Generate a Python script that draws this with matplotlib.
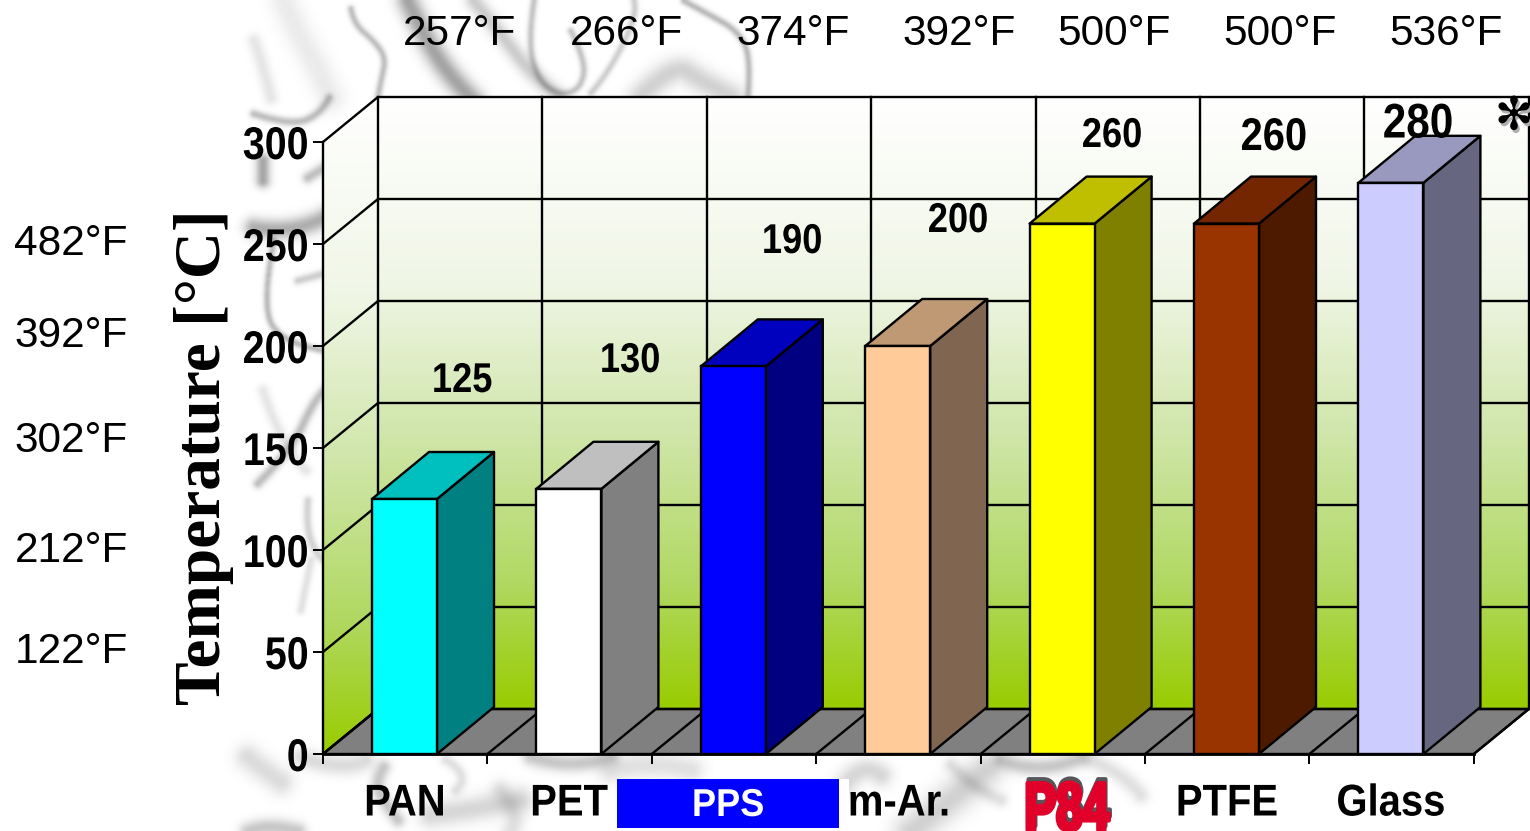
import numpy as np
import matplotlib
matplotlib.use('Agg')
import matplotlib.pyplot as plt
import matplotlib.patheffects as pe
from matplotlib.colors import LinearSegmentedColormap
from matplotlib.patches import Polygon, Rectangle
from matplotlib.transforms import Affine2D

materials = ['PAN', 'PET', 'PPS', 'm-Ar.', 'P84', 'PTFE', 'Glass']
temps = [125, 130, 190, 200, 260, 260, 280]
temp_labels = ['125', '130', '190', '200', '260', '260', '280']
top_f = ['257°F', '266°F', '374°F', '392°F', '500°F', '500°F', '536°F']
left_f = ['482°F', '392°F', '302°F', '212°F', '122°F']
y_ticks = [0, 50, 100, 150, 200, 250, 300]

front = ['#00ffff', '#ffffff', '#0000ff', '#ffcc99', '#ffff00', '#993300', '#ccccff']
side = ['#008080', '#808080', '#000080', '#806650', '#808000', '#4d1a00', '#666680']
top = ['#00bfbf', '#bfbfbf', '#0000bf', '#bf9973', '#bfbf00', '#732600', '#9999bf']

# label positions in the picture, they do not line up with the bars
top_f_x = [460, 627, 793, 959, 1114, 1280, 1446]
left_f_y = [244, 336, 441, 551, 652]
temp_x = [462, 630, 792, 958, 1112, 1274, 1418]
temp_y = [381, 361, 242, 221, 136, 138, 125]
temp_size = [30, 30, 30, 30, 30, 33, 35]
name_x = [405, 569, 728, 899, 1066, 1227, 1391]

# marble background strokes: points, width, darkness
swirls = [
    ([(407, 0), (427, 43), (453, 80), (472, 99)], 8, 0.36),
    ([(350, 8), (353, 23), (373, 40), (385, 57), (380, 80), (377, 96)], 2.5, 0.26),
    ([(283, 0), (297, 33), (317, 67), (330, 97)], 10, 0.08),
    ([(253, 40), (263, 67), (270, 97)], 5, 0.10),
    ([(473, 0), (500, 33), (530, 73), (557, 95)], 6, 0.20),
    ([(533, 0), (527, 40), (537, 80), (560, 95), (580, 87), (585, 60), (570, 30)], 2.5, 0.24),
    ([(633, 0), (637, 13), (607, 73), (590, 92)], 2.5, 0.20),
    ([(683, 0), (707, 13), (737, 30), (750, 57), (747, 95)], 2.5, 0.28),
    ([(640, 95), (673, 62), (700, 80), (730, 95)], 9, 0.18),
    ([(253, 113), (290, 125), (320, 113), (328, 97)], 3, 0.26),
    ([(262, 160), (262, 180)], 5, 0.35),
    ([(307, 177), (323, 167)], 4, 0.25),
    ([(253, 227), (293, 233), (323, 217)], 7, 0.32),
    ([(273, 240), (260, 307), (283, 343), (323, 350)], 2.5, 0.28),
    ([(323, 273), (297, 280)], 3, 0.20),
    ([(257, 483), (290, 450), (313, 400), (323, 390)], 3.5, 0.26),
    ([(262, 390), (278, 440), (305, 470)], 4, 0.10),
    ([(307, 500), (303, 543), (323, 560)], 3, 0.18),
    ([(300, 610), (310, 560)], 3, 0.12),
    ([(247, 757), (263, 770), (280, 782)], 9, 0.14),
    ([(300, 757), (345, 772), (365, 760)], 7, 0.14),
    ([(383, 767), (373, 783), (387, 807), (397, 820)], 5, 0.22),
    ([(247, 831), (267, 823), (297, 831)], 6, 0.22),
    ([(455, 790), (470, 775), (445, 760)], 4, 0.12),
    ([(430, 815), (470, 810), (520, 800)], 9, 0.16),
    ([(530, 757), (570, 770), (610, 757)], 6, 0.22),
    ([(500, 790), (520, 815), (510, 831)], 7, 0.12),
    ([(610, 770), (650, 760), (690, 770)], 9, 0.12),
    ([(840, 790), (860, 760), (880, 775)], 8, 0.16),
    ([(910, 831), (950, 800), (985, 770)], 12, 0.18),
    ([(1000, 760), (1040, 775), (1080, 758)], 6, 0.22),
    ([(950, 765), (975, 790), (1000, 800)], 5, 0.12),
    ([(1090, 760), (1125, 775), (1140, 795)], 6, 0.12),
]

plt.rcParams['font.family'] = ['Liberation Sans', 'DejaVu Sans']

W, H = 1530, 831
fig = plt.figure(figsize=(W / 100, H / 100), dpi=100)


class Squeeze(pe.AbstractPathEffect):
    # narrow the drawn text, no condensed font here
    def __init__(self, sx, anchor='center', stroke_w=0, shadow=None, shadow_off=(0, 0)):
        super().__init__()
        self.sx = sx
        self.anchor = anchor
        self.stroke_w = stroke_w
        self.shadow = shadow
        self.shadow_off = shadow_off

    def draw_path(self, renderer, gc, tpath, affine, rgbFace=None):
        box = tpath.get_extents(affine)
        cx = box.x1 if self.anchor == 'right' else (box.x0 + box.x1) / 2
        tr = affine + Affine2D().translate(-cx, 0).scale(self.sx, 1).translate(cx, 0)
        if self.shadow is not None:
            gc0 = renderer.new_gc()
            gc0.copy_properties(gc)
            gc0.set_foreground(self.shadow)
            gc0.set_linewidth(self.stroke_w)
            renderer.draw_path(gc0, tpath, tr + Affine2D().translate(*self.shadow_off), self.shadow_rgb())
            gc0.restore()
        if self.stroke_w:
            gc1 = renderer.new_gc()
            gc1.copy_properties(gc)
            gc1.set_foreground(rgbFace)
            gc1.set_linewidth(self.stroke_w)
            renderer.draw_path(gc1, tpath, tr, rgbFace)
            gc1.restore()
        else:
            renderer.draw_path(gc, tpath, tr, rgbFace)

    def shadow_rgb(self):
        return matplotlib.colors.to_rgba(self.shadow)


# pixel axes for the background picture
bg = fig.add_axes([0, 0, 1, 1], zorder=1)
yy, xx = np.mgrid[0:H:2, 0:W:2]
xx = xx.astype(np.float32)
yy = yy.astype(np.float32)
shade = np.ones(xx.shape)
for pts, width, dark in swirls:
    pts = np.array(pts, dtype=np.float32)
    # quadratic pieces through the midpoints
    mids = [pts[0]]
    for i in range(1, len(pts) - 1):
        a = mids[-1]
        c = (pts[i] + pts[i + 1]) / 2 if i < len(pts) - 2 else pts[i + 1]
        for t in np.linspace(0, 1, 40)[1:]:
            mids.append((1 - t) ** 2 * a + 2 * t * (1 - t) * pts[i] + t ** 2 * c)
    if len(pts) == 2:
        mids = [pts[0] + t * (pts[1] - pts[0]) for t in np.linspace(0, 1, 24)]
    mids = np.array(mids, dtype=np.float32)
    d2 = np.full(xx.shape, 1e9, dtype=np.float32)
    for mx, my in mids:
        d2 = np.minimum(d2, (xx - mx) ** 2 + (yy - my) ** 2)
    shade *= 1 - dark * np.exp(-d2 / (2 * width ** 2))
bg.imshow(shade, cmap='gray', vmin=0, vmax=1, extent=(0, W, H, 0), aspect='auto', interpolation='bilinear')
bg.set_xlim(0, W)
bg.set_ylim(H, 0)
bg.axis('off')

# chart axes: x counts material slots, y is the temperature
slot_px = 164.4
c_per_px = 50 / 102.0
x0_px, y0_px = 323, 754
ax = fig.add_axes([0, 0, 1, 1], zorder=2)
ax.patch.set_alpha(0)
xlim = (-x0_px / slot_px, (W - x0_px) / slot_px)
ylim = ((y0_px - H) * c_per_px, y0_px * c_per_px)
dx = 55 / slot_px
dy = 45 * c_per_px
bar_dx = 57 / slot_px
bar_dy = 47 * c_per_px
bar_off = 49 / slot_px
bar_w = 65 / slot_px
n = len(materials)

cmap = LinearSegmentedColormap.from_list('wall', [(0, '#ffffff'), (0.3, '#f0f6e6'), (0.55, '#d0e6aa'),
                                                  (0.8, '#b0d860'), (1, '#99cc00')])
grad = np.linspace(0, 1, 256).reshape(-1, 1)
lc = 'black'
lw = 1.7

# back wall
im = ax.imshow(grad, cmap=cmap, aspect='auto', zorder=1, vmin=0, vmax=1,
               extent=(dx, n + dx, dy, 300 + dy), origin='upper')
# side wall
im2 = ax.imshow(grad, cmap=cmap, aspect='auto', zorder=1, vmin=0, vmax=1,
                extent=(0, dx, 0, 300 + dy), origin='upper')
clip = Polygon([(0, 0), (dx, dy), (dx, 300 + dy), (0, 300)], transform=ax.transData, fc='none', ec='none')
ax.add_patch(clip)
im2.set_clip_path(clip)

# floor
ax.add_patch(Polygon([(0, 0), (dx, dy), (n + dx, dy), (n, 0)], fc='#808080', ec=lc, lw=lw, zorder=2))

for v in y_ticks:
    ax.plot([0, dx, n + dx], [v, v + dy, v + dy], color=lc, lw=lw, zorder=2, solid_capstyle='butt')
for i in range(n + 1):
    ax.plot([i, i + dx], [0, dy], color=lc, lw=lw, zorder=3)
    ax.plot([i + dx, i + dx], [dy, 300 + dy], color=lc, lw=lw, zorder=2)

# bars, left to right
for i, v in enumerate(temps):
    x = i + bar_off
    ax.add_patch(Polygon([(x + bar_w, 0), (x + bar_w + bar_dx, bar_dy), (x + bar_w + bar_dx, v + bar_dy),
                          (x + bar_w, v)], fc=side[i], ec=lc, lw=lw, zorder=4, joinstyle='round'))
    ax.add_patch(Polygon([(x, v), (x + bar_dx, v + bar_dy), (x + bar_w + bar_dx, v + bar_dy), (x + bar_w, v)],
                         fc=top[i], ec=lc, lw=lw, zorder=4, joinstyle='round'))
    ax.bar(x, v, width=bar_w, align='edge', color=front[i], edgecolor=lc, linewidth=lw, zorder=5)

ax.set_xlim(xlim)
ax.set_ylim(ylim)
ax.spines['top'].set_visible(False)
ax.spines['right'].set_visible(False)
ax.spines['left'].set_position(('data', 0))
ax.spines['bottom'].set_position(('data', 0))
ax.spines['left'].set_bounds(0, 300)
ax.spines['bottom'].set_bounds(0, n)
ax.spines['left'].set_linewidth(1.7)
ax.spines['bottom'].set_linewidth(2.0)
ax.spines['left'].set_zorder(6)
ax.spines['bottom'].set_zorder(6)
ax.set_xticks(range(n + 1))
ax.set_xticklabels([])
ax.set_yticks(y_ticks)
ax.set_yticklabels([str(v) for v in y_ticks], fontweight='bold', fontsize=33)
ax.tick_params(axis='both', length=7, width=1.4, direction='out', pad=3)
for lab in ax.get_yticklabels():
    lab.set_path_effects([Squeeze(0.86, 'right')])

# loose texts on top of the chart
fg = fig.add_axes([0, 0, 1, 1], zorder=3)
fg.patch.set_alpha(0)
fg.set_xlim(0, W)
fg.set_ylim(H, 0)
fg.axis('off')

for x, s in zip(top_f_x, top_f):
    fg.text(x, 34, s, fontsize=30.5, ha='center', va='center')
for y, s in zip(left_f_y, left_f):
    fg.text(128, y, s, fontsize=30.5, ha='right', va='center')
fg.text(204, 457, 'Temperature [°C]', family=['Liberation Serif', 'DejaVu Serif'], fontweight='bold',
        fontsize=47, rotation=90, ha='center', va='center')
for x, y, s, size in zip(temp_x, temp_y, temp_labels, temp_size):
    fg.text(x, y, s, fontweight='bold', fontsize=size, ha='center', va='center',
            path_effects=[Squeeze(0.87)])

fg.add_patch(Rectangle((617, 779), 222, 49, fc='#0000ff', ec='none', zorder=2))
fg.add_patch(Rectangle((839, 779), 10, 52, fc='white', ec='none', zorder=2))
fg.add_patch(Rectangle((1022, 778), 90, 53, fc='white', ec='none', zorder=2))
for x, s in zip(name_x, materials):
    if s == 'PPS':
        fg.text(x, 806, s, color='white', fontweight='bold', fontsize=28, ha='center', va='center', zorder=3,
                path_effects=[Squeeze(0.93)])
    elif s == 'P84':
        fg.text(x, 830, s, color='#e0002a', fontweight='bold', fontsize=49, ha='center', va='baseline', zorder=3,
                path_effects=[Squeeze(0.70, stroke_w=3, shadow='#55555a', shadow_off=(1, 4))])
    else:
        fg.text(x, 804, s, fontweight='bold', fontsize=32, ha='center', va='center', zorder=3,
                path_effects=[Squeeze(0.90)])

# asterisk with its shadow
fg.text(1514, 117, '✻', color='black', family='DejaVu Sans', fontsize=33, ha='center', va='center',
        path_effects=[Squeeze(1.0, shadow='#b0b0b0', shadow_off=(2, -3))])

fig.savefig('out.png', dpi=100)
